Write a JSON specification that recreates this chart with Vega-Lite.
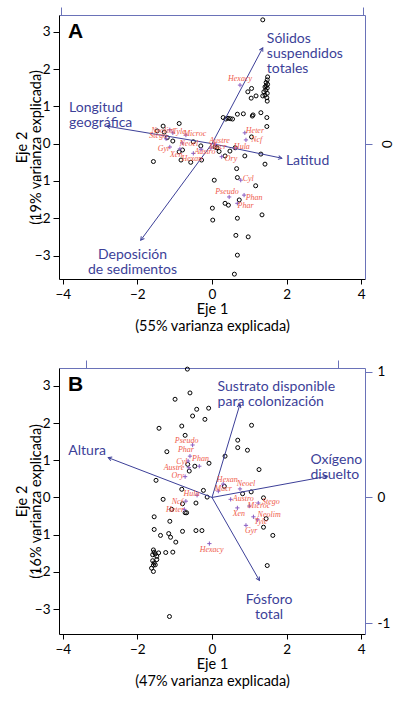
{
"$schema": "https://vega.github.io/schema/vega-lite/v6.json",
"background": "white",
"padding": {"left": 14, "top": 6, "right": 2, "bottom": 2},
"spacing": 89,
"bounds": "flush",
"config": {
  "view": {"stroke": null},
  "font": "Lato",
  "axis": {"grid": false, "labelFont": "Lato", "labelFontSize": 13.5, "labelColor": "#000", "titleFont": "Lato", "titleFontSize": 14.5, "titleFontWeight": "normal", "titleColor": "#000", "domainColor": "#000", "tickColor": "#000", "domainWidth": 1, "tickWidth": 1, "labelFlush": false, "labelOverlap": false}
},
"datasets": {
  "sitesA": [
    {"x":1.36,"y":3.32},{"x":1.49,"y":1.79},{"x":1.48,"y":1.71},{"x":1.45,"y":1.64},{"x":1.49,"y":1.59},{"x":1.45,"y":1.55},{"x":1.42,"y":1.52},{"x":1.48,"y":1.49},{"x":1.44,"y":1.43},{"x":1.39,"y":1.39},{"x":1.48,"y":1.35},{"x":1.42,"y":1.30},{"x":1.36,"y":1.28},{"x":1.47,"y":1.23},{"x":1.48,"y":1.14},
    {"x":1.06,"y":1.48},{"x":0.96,"y":1.39},{"x":1.05,"y":1.22},{"x":1.18,"y":1.28},
    {"x":0.30,"y":0.70},{"x":0.37,"y":0.66},{"x":0.43,"y":0.68},{"x":0.49,"y":0.67},{"x":0.55,"y":0.66},
    {"x":0.68,"y":0.79},{"x":0.84,"y":0.80},{"x":1.08,"y":0.74},{"x":1.10,"y":0.77},{"x":1.31,"y":0.83},{"x":1.47,"y":0.70},{"x":1.47,"y":0.46},{"x":1.06,"y":0.18},
    {"x":-0.88,"y":0.54},{"x":-1.31,"y":0.47},{"x":-1.47,"y":0.34},{"x":-1.28,"y":0.31},{"x":-1.20,"y":0.16},{"x":-1.05,"y":0.07},{"x":-0.50,"y":0.05},{"x":-0.30,"y":-0.06},
    {"x":-0.88,"y":-0.22},{"x":-0.79,"y":-0.17},{"x":-0.83,"y":-0.44},{"x":-0.57,"y":-0.50},{"x":-0.28,"y":-0.44},{"x":-1.57,"y":-0.48},
    {"x":0.08,"y":-0.09},{"x":0.13,"y":-0.11},{"x":0.19,"y":-0.21},{"x":0.48,"y":-0.20},{"x":0.35,"y":-0.33},{"x":0.62,"y":-0.11},{"x":0.88,"y":-0.33},{"x":1.31,"y":-0.28},{"x":1.42,"y":-0.55},{"x":0.66,"y":-0.67},{"x":0.68,"y":-0.91},{"x":0.06,"y":-0.98},{"x":1.17,"y":-1.13},{"x":0.35,"y":-1.60},{"x":0.44,"y":-1.65},{"x":0.73,"y":-1.51},{"x":0.01,"y":-1.73},{"x":0.02,"y":-2.05},{"x":0.68,"y":-2.0},{"x":1.34,"y":-1.91},{"x":0.64,"y":-2.46},{"x":0.97,"y":-2.50},{"x":0.68,"y":-2.99},{"x":0.60,"y":-3.50}
  ],
  "speciesA": [
    {"sp":"Hexacy","x":0.75,"y":1.57,"lx":0.75,"ly":1.73},
    {"sp":"Heter","x":0.88,"y":0.29,"lx":1.15,"ly":0.34},
    {"sp":"Ncf","x":0.91,"y":0.10,"lx":1.20,"ly":0.09},
    {"sp":"Neolim","x":-1.13,"y":0.37,"lx":-1.32,"ly":0.34},
    {"sp":"Stego","x":-1.23,"y":0.13,"lx":-1.44,"ly":0.21},
    {"sp":"Tyle","x":-1.05,"y":0.29,"lx":-0.88,"ly":0.31},
    {"sp":"Microc","x":-0.70,"y":0.23,"lx":-0.46,"ly":0.25},
    {"sp":"Neoel","x":-0.80,"y":0.02,"lx":-0.62,"ly":-0.02},
    {"sp":"Gyr","x":-1.13,"y":-0.09,"lx":-1.29,"ly":-0.15},
    {"sp":"Xen","x":-0.86,"y":-0.14,"lx":-0.96,"ly":-0.31},
    {"sp":"Hexan","x":-0.50,"y":-0.26,"lx":-0.54,"ly":-0.42},
    {"sp":"Austro","x":-0.29,"y":-0.15,"lx":-0.19,"ly":-0.22},
    {"sp":"Austre","x":0.08,"y":-0.01,"lx":0.20,"ly":0.07},
    {"sp":"Macr","x":-0.03,"y":-0.12,"lx":0.15,"ly":-0.08},
    {"sp":"Hula","x":0.62,"y":-0.12,"lx":0.80,"ly":-0.09},
    {"sp":"Ory","x":0.26,"y":-0.35,"lx":0.51,"ly":-0.40},
    {"sp":"Cyl","x":0.77,"y":-0.98,"lx":0.97,"ly":-0.95},
    {"sp":"Pseudo","x":0.46,"y":-1.43,"lx":0.40,"ly":-1.29},
    {"sp":"Phan","x":0.86,"y":-1.38,"lx":1.13,"ly":-1.45},
    {"sp":"Phar","x":0.68,"y":-1.60,"lx":0.90,"ly":-1.67}
  ],
  "arrowsA": [
    {"label":"Sólidos\nsuspendidos\ntotales","x":1.36,"y":2.57,"lx":1.47,"ly":2.80},
    {"label":"Longitud\ngeográfica","x":-2.82,"y":0.47,"lx":-3.83,"ly":0.96},
    {"label":"Latitud","x":1.87,"y":-0.39,"lx":1.98,"ly":-0.46},
    {"label":"Deposición\nde sedimentos","x":-1.91,"y":-2.59,"lx":-2.13,"ly":-2.98}
  ],
  "letterA": [{"label":"A","x":-3.86,"y":2.83}],
  "sitesB": [
    {"x":-0.66,"y":3.45},{"x":-0.59,"y":2.81},{"x":-0.99,"y":2.64},{"x":-0.41,"y":2.37},{"x":-0.09,"y":2.40},{"x":-0.52,"y":2.19},{"x":-0.19,"y":2.10},{"x":-1.42,"y":1.86},{"x":-0.81,"y":1.92},{"x":-0.72,"y":1.67},{"x":-1.21,"y":1.23},{"x":-0.08,"y":0.92},{"x":-0.65,"y":0.89},{"x":-0.46,"y":0.84},{"x":-0.61,"y":0.71},{"x":-1.50,"y":0.46},{"x":-0.81,"y":0.22},{"x":-0.23,"y":0.19},{"x":-0.13,"y":0.01},{"x":-1.31,"y":-0.05},{"x":-0.43,"y":-0.15},{"x":-0.79,"y":-0.17},{"x":-1.08,"y":-0.32},{"x":-0.72,"y":-0.41},{"x":-0.68,"y":-0.41},{"x":-1.55,"y":-0.52},{"x":-1.13,"y":-0.64},{"x":-1.55,"y":-0.86},{"x":-1.38,"y":-1.02},{"x":-0.79,"y":-0.91},{"x":-1.16,"y":-0.97},{"x":-1.11,"y":-1.07},{"x":-0.97,"y":-1.20},{"x":-1.05,"y":-1.47},{"x":-1.24,"y":-1.48},{"x":-0.43,"y":-0.89},{"x":-0.27,"y":-0.89},{"x":-1.14,"y":-3.20},
    {"x":-1.57,"y":-1.41},{"x":-1.55,"y":-1.47},{"x":-1.59,"y":-1.54},{"x":-1.52,"y":-1.52},{"x":-1.48,"y":-1.58},{"x":-1.59,"y":-1.70},{"x":-1.55,"y":-1.76},{"x":-1.57,"y":-1.82},{"x":-1.52,"y":-1.81},{"x":-1.62,"y":-1.90},{"x":-1.57,"y":-1.99},{"x":-1.48,"y":-1.67},{"x":-1.43,"y":-1.49},
    {"x":1.38,"y":-0.80},{"x":1.63,"y":-1.02},{"x":1.48,"y":-1.83},{"x":1.45,"y":-0.57},{"x":1.06,"y":1.94},{"x":0.69,"y":1.54},{"x":0.69,"y":1.34},{"x":0.95,"y":1.27},{"x":0.35,"y":1.11},{"x":1.26,"y":0.75},{"x":0.33,"y":0.30},{"x":0.82,"y":0.10},{"x":1.05,"y":0.15},{"x":1.38,"y":-0.01}
  ],
  "speciesB": [
    {"sp":"Pseudo","x":-0.52,"y":1.41,"lx":-0.68,"ly":1.52},
    {"sp":"Phar","x":-0.59,"y":1.11,"lx":-0.70,"ly":1.27},
    {"sp":"Cyl","x":-0.64,"y":0.98,"lx":-0.81,"ly":0.96},
    {"sp":"Phan","x":-0.34,"y":0.84,"lx":-0.31,"ly":1.03},
    {"sp":"Austre","x":-0.62,"y":0.80,"lx":-1.02,"ly":0.78},
    {"sp":"Ory","x":-0.72,"y":0.56,"lx":-0.92,"ly":0.57},
    {"sp":"Hula","x":-0.40,"y":0.06,"lx":-0.55,"ly":0.08},
    {"sp":"Ncf","x":-0.70,"y":-0.10,"lx":-0.93,"ly":-0.13},
    {"sp":"Heter","x":-0.74,"y":-0.32,"lx":-0.99,"ly":-0.35},
    {"sp":"Hexacy","x":-0.07,"y":-1.24,"lx":-0.01,"ly":-1.42},
    {"sp":"Hexan","x":0.30,"y":0.36,"lx":0.41,"ly":0.47},
    {"sp":"Neoel","x":0.75,"y":0.23,"lx":0.91,"ly":0.37},
    {"sp":"Macr","x":0.17,"y":0.17,"lx":0.30,"ly":0.22},
    {"sp":"Austro","x":0.50,"y":-0.05,"lx":0.84,"ly":-0.05},
    {"sp":"Stego","x":1.24,"y":-0.15,"lx":1.58,"ly":-0.13},
    {"sp":"Microc","x":1.00,"y":-0.23,"lx":1.26,"ly":-0.23},
    {"sp":"Xen","x":0.68,"y":-0.28,"lx":0.72,"ly":-0.44},
    {"sp":"Neolim","x":1.11,"y":-0.52,"lx":1.53,"ly":-0.46},
    {"sp":"Tyle","x":1.22,"y":-0.60,"lx":1.31,"ly":-0.66},
    {"sp":"Gyr","x":0.91,"y":-0.75,"lx":1.05,"ly":-0.91}
  ],
  "arrowsB": [
    {"label":"Sustrato disponible\npara colonización","x":0.75,"y":2.51,"lx":0.15,"ly":2.96},
    {"label":"Oxígeno\ndisuelto","x":3.09,"y":0.57,"lx":2.64,"ly":1.0},
    {"label":"Altura","x":-2.78,"y":1.07,"lx":-3.85,"ly":1.25},
    {"label":"Fósforo\ntotal","x":1.27,"y":-2.23,"lx":1.53,"ly":-2.75}
  ],
  "letterB": [{"label":"B","x":-3.86,"y":2.87}]
},
"vconcat": [
  {
    "width": 306, "height": 264,
    "resolve": {"axis": {"x": "independent", "y": "independent"}},
    "layer": [
      {"data": {"name": "sitesA"},
       "mark": {"type": "point", "shape": "circle", "size": 16, "filled": false, "stroke": "#000", "strokeWidth": 1, "opacity": 1},
       "encoding": {
         "x": {"field": "x", "type": "quantitative", "scale": {"domain": [-4.1, 4.1], "nice": false, "zero": false},
               "axis": {"orient": "bottom", "values": [-4,-2,0,2,4], "tickSize": 5, "labelPadding": 3, "title": ["Eje 1", "(55% varianza explicada)"], "titleLineHeight": 17, "titlePadding": 2}},
         "y": {"field": "y", "type": "quantitative", "scale": {"domain": [-3.63, 3.45], "nice": false, "zero": false},
               "axis": {"orient": "left", "values": [-3,-2,-1,0,1,2,3], "tickSize": 6, "labelPadding": 3, "title": ["Eje 2", "(19% varianza explicada)"], "titleLineHeight": 14, "titleX": -30, "titleBaseline": "bottom"}}
       }},
      {"data": {"name": "sitesA"},
       "mark": {"type": "point", "opacity": 0},
       "encoding": {
         "x": {"field": "x", "type": "quantitative", "scale": {"domain": [-4.1, 4.1], "nice": false, "zero": false},
               "axis": {"orient": "top", "values": [-4.05, 4.05], "labels": false, "title": null, "tickSize": 8, "domainColor": "#6a72b8", "tickColor": "#6a72b8"}},
         "y": {"field": "y", "type": "quantitative", "scale": {"domain": [-3.63, 3.45], "nice": false, "zero": false},
               "axis": {"orient": "right", "values": [0], "labelExpr": "'0'", "labelAngle": 90, "tickSize": 7, "labelPadding": 6, "title": null, "domainColor": "#6a72b8", "tickColor": "#6a72b8"}}
       }},
      {"mark": {"type": "rule", "stroke": "#000", "strokeWidth": 1, "strokeDash": [1.5, 2]},
       "encoding": {"x": {"datum": 0, "type": "quantitative", "scale": {"domain": [-4.1, 4.1], "nice": false, "zero": false}, "axis": null}}},
      {"mark": {"type": "rule", "stroke": "#000", "strokeWidth": 1, "strokeDash": [1.5, 2]},
       "encoding": {"y": {"datum": 0, "type": "quantitative", "scale": {"domain": [-3.63, 3.45], "nice": false, "zero": false}, "axis": null}}},
      {"data": {"name": "arrowsA"},
       "mark": {"type": "rule", "stroke": "#3c3f98", "strokeWidth": 1},
       "encoding": {
         "x": {"field": "x", "type": "quantitative", "scale": {"domain": [-4.1, 4.1], "nice": false, "zero": false}, "axis": null},
         "y": {"field": "y", "type": "quantitative", "scale": {"domain": [-3.63, 3.45], "nice": false, "zero": false}, "axis": null},
         "x2": {"datum": 0}, "y2": {"datum": 0}
       }},
      {"data": {"name": "arrowsA"},
       "mark": {"type": "point", "shape": "M-0.55,1L0,0L0.55,1", "size": 50, "filled": false, "stroke": "#3c3f98", "strokeWidth": 1, "opacity": 1, "angle": {"expr": "atan2(datum.x, datum.y)*180/PI"}},
       "encoding": {
         "x": {"field": "x", "type": "quantitative", "scale": {"domain": [-4.1, 4.1], "nice": false, "zero": false}, "axis": null},
         "y": {"field": "y", "type": "quantitative", "scale": {"domain": [-3.63, 3.45], "nice": false, "zero": false}, "axis": null}
       }},
      {"data": {"name": "arrowsA"},
       "transform": [{"filter": "indexof(datum.label, 'Deposi') != 0"}],
       "mark": {"type": "text", "font": "Lato", "fontSize": 14, "lineHeight": 15, "lineBreak": "\n", "align": "left", "baseline": "middle", "color": "#3c3f98"},
       "encoding": {
         "x": {"field": "lx", "type": "quantitative", "scale": {"domain": [-4.1, 4.1], "nice": false, "zero": false}, "axis": null},
         "y": {"field": "ly", "type": "quantitative", "scale": {"domain": [-3.63, 3.45], "nice": false, "zero": false}, "axis": null},
         "text": {"field": "label"}
       }},
      {"data": {"name": "arrowsA"},
       "transform": [{"filter": "indexof(datum.label, 'Deposi') == 0"}],
       "mark": {"type": "text", "font": "Lato", "fontSize": 14, "lineHeight": 15, "lineBreak": "\n", "align": "center", "baseline": "middle", "color": "#3c3f98"},
       "encoding": {
         "x": {"field": "lx", "type": "quantitative", "scale": {"domain": [-4.1, 4.1], "nice": false, "zero": false}, "axis": null},
         "y": {"field": "ly", "type": "quantitative", "scale": {"domain": [-3.63, 3.45], "nice": false, "zero": false}, "axis": null},
         "text": {"field": "label"}
       }},
      {"data": {"name": "speciesA"},
       "mark": {"type": "point", "shape": "M-1,0L1,0M0,-1L0,1", "size": 18, "filled": false, "stroke": "#8a5ec2", "strokeWidth": 1, "opacity": 1},
       "encoding": {
         "x": {"field": "x", "type": "quantitative", "scale": {"domain": [-4.1, 4.1], "nice": false, "zero": false}, "axis": null},
         "y": {"field": "y", "type": "quantitative", "scale": {"domain": [-3.63, 3.45], "nice": false, "zero": false}, "axis": null}
       }},
      {"data": {"name": "speciesA"},
       "mark": {"type": "text", "font": "Liberation Sans Narrow", "fontStyle": "italic", "fontSize": 8, "color": "#ef5b4c", "align": "center", "baseline": "middle"},
       "encoding": {
         "x": {"field": "lx", "type": "quantitative", "scale": {"domain": [-4.1, 4.1], "nice": false, "zero": false}, "axis": null},
         "y": {"field": "ly", "type": "quantitative", "scale": {"domain": [-3.63, 3.45], "nice": false, "zero": false}, "axis": null},
         "text": {"field": "sp"}
       }},
      {"data": {"name": "letterA"},
       "mark": {"type": "text", "font": "Liberation Sans", "fontWeight": "bold", "fontSize": 21, "align": "left", "baseline": "alphabetic", "color": "#000"},
       "encoding": {
         "x": {"field": "x", "type": "quantitative", "scale": {"domain": [-4.1, 4.1], "nice": false, "zero": false}, "axis": null},
         "y": {"field": "y", "type": "quantitative", "scale": {"domain": [-3.63, 3.45], "nice": false, "zero": false}, "axis": null},
         "text": {"field": "label"}
       }}
    ]
  },
  {
    "width": 306, "height": 266,
    "resolve": {"axis": {"x": "independent", "y": "independent"}},
    "layer": [
      {"data": {"name": "sitesB"},
       "mark": {"type": "point", "shape": "circle", "size": 16, "filled": false, "stroke": "#000", "strokeWidth": 1, "opacity": 1},
       "encoding": {
         "x": {"field": "x", "type": "quantitative", "scale": {"domain": [-4.1, 4.1], "nice": false, "zero": false},
               "axis": {"orient": "bottom", "values": [-4,-2,0,2,4], "tickSize": 5, "labelPadding": 3, "title": ["Eje 1", "(47% varianza explicada)"], "titleLineHeight": 17, "titlePadding": 2}},
         "y": {"field": "y", "type": "quantitative", "scale": {"domain": [-3.67, 3.48], "nice": false, "zero": false},
               "axis": {"orient": "left", "values": [-3,-2,-1,0,1,2,3], "tickSize": 6, "labelPadding": 3, "title": ["Eje 2", "(16% varianza explicada)"], "titleLineHeight": 14, "titleX": -30, "titleBaseline": "bottom"}}
       }},
      {"data": {"name": "sitesB"},
       "mark": {"type": "point", "opacity": 0},
       "encoding": {
         "x": {"field": "x", "type": "quantitative", "scale": {"domain": [-4.1, 4.1], "nice": false, "zero": false},
               "axis": {"orient": "top", "values": [-3.38, 3.38], "labels": false, "title": null, "tickSize": 8, "domainColor": "#6a72b8", "tickColor": "#6a72b8"}},
         "y": {"field": "y", "type": "quantitative", "scale": {"domain": [-3.67, 3.48], "nice": false, "zero": false},
               "axis": {"orient": "right", "values": [-3.377, 0, 3.377], "labelExpr": "datum.value > 1 ? '1' : (datum.value < -1 ? '-1' : '0')", "tickSize": 7, "labelPadding": 5, "title": null, "domainColor": "#6a72b8", "tickColor": "#6a72b8"}}
       }},
      {"mark": {"type": "rule", "stroke": "#000", "strokeWidth": 1, "strokeDash": [1.5, 2]},
       "encoding": {"x": {"datum": 0, "type": "quantitative", "scale": {"domain": [-4.1, 4.1], "nice": false, "zero": false}, "axis": null}}},
      {"mark": {"type": "rule", "stroke": "#000", "strokeWidth": 1, "strokeDash": [1.5, 2]},
       "encoding": {"y": {"datum": 0, "type": "quantitative", "scale": {"domain": [-3.67, 3.48], "nice": false, "zero": false}, "axis": null}}},
      {"data": {"name": "arrowsB"},
       "mark": {"type": "rule", "stroke": "#3c3f98", "strokeWidth": 1},
       "encoding": {
         "x": {"field": "x", "type": "quantitative", "scale": {"domain": [-4.1, 4.1], "nice": false, "zero": false}, "axis": null},
         "y": {"field": "y", "type": "quantitative", "scale": {"domain": [-3.67, 3.48], "nice": false, "zero": false}, "axis": null},
         "x2": {"datum": 0}, "y2": {"datum": 0}
       }},
      {"data": {"name": "arrowsB"},
       "mark": {"type": "point", "shape": "M-0.55,1L0,0L0.55,1", "size": 50, "filled": false, "stroke": "#3c3f98", "strokeWidth": 1, "opacity": 1, "angle": {"expr": "atan2(datum.x, datum.y)*180/PI"}},
       "encoding": {
         "x": {"field": "x", "type": "quantitative", "scale": {"domain": [-4.1, 4.1], "nice": false, "zero": false}, "axis": null},
         "y": {"field": "y", "type": "quantitative", "scale": {"domain": [-3.67, 3.48], "nice": false, "zero": false}, "axis": null}
       }},
      {"data": {"name": "arrowsB"},
       "transform": [{"filter": "indexof(datum.label, 'Fósforo') != 0"}],
       "mark": {"type": "text", "font": "Lato", "fontSize": 14, "lineHeight": 15, "lineBreak": "\n", "align": "left", "baseline": "middle", "color": "#3c3f98"},
       "encoding": {
         "x": {"field": "lx", "type": "quantitative", "scale": {"domain": [-4.1, 4.1], "nice": false, "zero": false}, "axis": null},
         "y": {"field": "ly", "type": "quantitative", "scale": {"domain": [-3.67, 3.48], "nice": false, "zero": false}, "axis": null},
         "text": {"field": "label"}
       }},
      {"data": {"name": "arrowsB"},
       "transform": [{"filter": "indexof(datum.label, 'Fósforo') == 0"}],
       "mark": {"type": "text", "font": "Lato", "fontSize": 14, "lineHeight": 15, "lineBreak": "\n", "align": "center", "baseline": "middle", "color": "#3c3f98"},
       "encoding": {
         "x": {"field": "lx", "type": "quantitative", "scale": {"domain": [-4.1, 4.1], "nice": false, "zero": false}, "axis": null},
         "y": {"field": "ly", "type": "quantitative", "scale": {"domain": [-3.67, 3.48], "nice": false, "zero": false}, "axis": null},
         "text": {"field": "label"}
       }},
      {"data": {"name": "speciesB"},
       "mark": {"type": "point", "shape": "M-1,0L1,0M0,-1L0,1", "size": 18, "filled": false, "stroke": "#8a5ec2", "strokeWidth": 1, "opacity": 1},
       "encoding": {
         "x": {"field": "x", "type": "quantitative", "scale": {"domain": [-4.1, 4.1], "nice": false, "zero": false}, "axis": null},
         "y": {"field": "y", "type": "quantitative", "scale": {"domain": [-3.67, 3.48], "nice": false, "zero": false}, "axis": null}
       }},
      {"data": {"name": "speciesB"},
       "mark": {"type": "text", "font": "Liberation Sans Narrow", "fontStyle": "italic", "fontSize": 8, "color": "#ef5b4c", "align": "center", "baseline": "middle"},
       "encoding": {
         "x": {"field": "lx", "type": "quantitative", "scale": {"domain": [-4.1, 4.1], "nice": false, "zero": false}, "axis": null},
         "y": {"field": "ly", "type": "quantitative", "scale": {"domain": [-3.67, 3.48], "nice": false, "zero": false}, "axis": null},
         "text": {"field": "sp"}
       }},
      {"data": {"name": "letterB"},
       "mark": {"type": "text", "font": "Liberation Sans", "fontWeight": "bold", "fontSize": 21, "align": "left", "baseline": "alphabetic", "color": "#000"},
       "encoding": {
         "x": {"field": "x", "type": "quantitative", "scale": {"domain": [-4.1, 4.1], "nice": false, "zero": false}, "axis": null},
         "y": {"field": "y", "type": "quantitative", "scale": {"domain": [-3.67, 3.48], "nice": false, "zero": false}, "axis": null},
         "text": {"field": "label"}
       }}
    ]
  }
]
}
